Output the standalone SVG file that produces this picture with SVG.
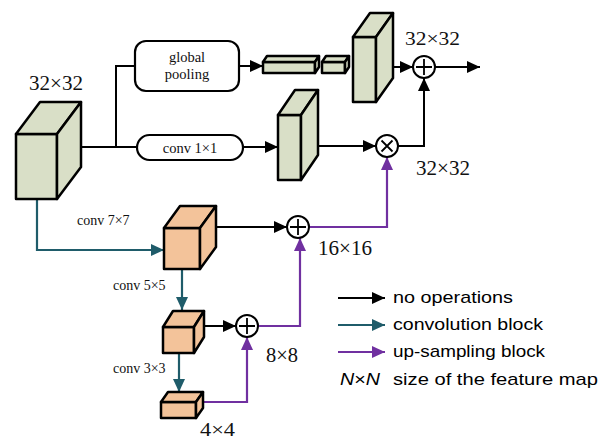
<svg xmlns="http://www.w3.org/2000/svg" width="601" height="442" viewBox="0 0 601 442">
<style>
.g{fill:#d9dfc7;stroke:#000;stroke-width:2.5;stroke-linejoin:round}
.o{fill:#f3c39a;stroke:#000;stroke-width:2.5;stroke-linejoin:round}
.box{fill:#fff;stroke:#000;stroke-width:2.2}
.k{fill:none;stroke:#000;stroke-width:2}
.t{fill:none;stroke:#1f5c6a;stroke-width:2.2}
.p{fill:none;stroke:#7030a0;stroke-width:2.2}
.op{fill:#fff;stroke:#000;stroke-width:2}
.sym{stroke:#000;stroke-width:1.8}
.ser{font-family:"Liberation Serif","Times New Roman",serif;fill:#111}
.san{font-family:"Liberation Sans",Arial,sans-serif;fill:#000;font-size:17px}
</style>
<defs>
<marker id="ak" markerUnits="userSpaceOnUse" markerWidth="13" markerHeight="12" refX="13" refY="6" orient="auto"><path d="M0,0 L13,6 L0,12 z" fill="#000"/></marker>
<marker id="at" markerUnits="userSpaceOnUse" markerWidth="13" markerHeight="12" refX="13" refY="6" orient="auto"><path d="M0,0 L13,6 L0,12 z" fill="#1f5c6a"/></marker>
<marker id="ap" markerUnits="userSpaceOnUse" markerWidth="13" markerHeight="12" refX="13" refY="6" orient="auto"><path d="M0,0 L13,6 L0,12 z" fill="#7030a0"/></marker>
</defs>

<g id="connectors">
<path class="k" d="M81,147 H137"/>
<path class="k" d="M116,147 V66 H135"/>
<path class="k" d="M239,66 H263" marker-end="url(#ak)"/>
<path class="k" d="M243,147 H278" marker-end="url(#ak)"/>
<path class="k" d="M318,146 H376" marker-end="url(#ak)"/>
<path class="k" d="M398,146 H424 V78" marker-end="url(#ak)"/>
<path class="k" d="M393,67 H413" marker-end="url(#ak)"/>
<path class="k" d="M435,67 H480" marker-end="url(#ak)"/>
<path class="k" d="M216,227 H287" marker-end="url(#ak)"/>
<path class="k" d="M204,326 H236" marker-end="url(#ak)"/>
<path class="t" d="M37,199 V250 H164" marker-end="url(#at)"/>
<path class="t" d="M182,269 V310" marker-end="url(#at)"/>
<path class="t" d="M179,353 V392" marker-end="url(#at)"/>
<path class="p" d="M203,402 H247 V337" marker-end="url(#ap)"/>
<path class="p" d="M258,326 H300 V238" marker-end="url(#ap)"/>
<path class="p" d="M309,227 H387 V157" marker-end="url(#ap)"/>
</g>

<g id="input-cube">
<rect class="g" x="16" y="134" width="41" height="65"/>
<polygon class="g" points="16,134 40,102 81,102 57,134"/>
<polygon class="g" points="57,134 81,102 81,167 57,199"/>
</g>
<g id="global-pooling">
<rect class="box" x="135" y="41" width="104" height="50" rx="11"/>
<text class="ser" x="187" y="62" font-size="14.5" text-anchor="middle">global</text>
<text class="ser" x="187" y="79" font-size="14.5" text-anchor="middle">pooling</text>
</g>
<g id="conv1x1">
<rect class="box" x="137" y="135" width="106" height="25" rx="12.5"/>
<text class="ser" x="190" y="153" font-size="14.5" text-anchor="middle">conv 1×1</text>
</g>
<g id="bar1">
<rect class="g" x="263" y="62" width="52" height="11" stroke-width="2"/>
<polygon class="g" points="263,62 267,56 319,56 315,62" stroke-width="2"/>
<polygon class="g" points="315,62 319,56 319,67 315,73" stroke-width="2"/>
</g>
<g id="bar2">
<rect class="g" x="322" y="62" width="23" height="11" stroke-width="2"/>
<polygon class="g" points="322,62 326,56 349,56 345,62" stroke-width="2"/>
<polygon class="g" points="345,62 349,56 349,67 345,73" stroke-width="2"/>
</g>
<g id="top-cube">
<rect class="g" x="353" y="37" width="23" height="65"/>
<polygon class="g" points="353,37 370,13 393,13 376,37"/>
<polygon class="g" points="376,37 393,13 393,78 376,102"/>
</g>
<g id="mid-cube">
<rect class="g" x="278" y="115" width="23" height="65"/>
<polygon class="g" points="278,115 295,90 318,90 301,115"/>
<polygon class="g" points="301,115 318,90 318,155 301,180"/>
</g>
<g id="add-top">
<circle class="op" cx="424" cy="67" r="11"/>
<path class="sym" d="M416,67 H432 M424,59 V75"/>
</g>
<g id="mul">
<circle class="op" cx="387" cy="146" r="11"/>
<path class="sym" d="M381.5,140.5 L392.5,151.5 M392.5,140.5 L381.5,151.5"/>
</g>
<g id="cube-a">
<rect class="o" x="164" y="228" width="36" height="41"/>
<polygon class="o" points="164,228 180,206 216,206 200,228"/>
<polygon class="o" points="200,228 216,206 216,247 200,269"/>
</g>
<g id="cube-b">
<rect class="o" x="163" y="327" width="31" height="26"/>
<polygon class="o" points="163,327 173,311 204,311 194,327"/>
<polygon class="o" points="194,327 204,311 204,337 194,353"/>
</g>
<g id="cube-c">
<rect class="o" x="161" y="402" width="35" height="16"/>
<polygon class="o" points="161,402 168,392 203,392 196,402"/>
<polygon class="o" points="196,402 203,392 203,408 196,418"/>
</g>
<g id="add-a">
<circle class="op" cx="298" cy="227" r="11"/>
<path class="sym" d="M290,227 H306 M298,219 V235"/>
</g>
<g id="add-b">
<circle class="op" cx="247" cy="326" r="11"/>
<path class="sym" d="M239,326 H255 M247,318 V334"/>
</g>

<g id="labels">
<text class="ser" x="29" y="90" font-size="20" textLength="54" lengthAdjust="spacingAndGlyphs">32×32</text>
<text class="ser" x="405" y="45" font-size="19" textLength="55" lengthAdjust="spacingAndGlyphs">32×32</text>
<text class="ser" x="416" y="175" font-size="21" textLength="54" lengthAdjust="spacingAndGlyphs">32×32</text>
<text class="ser" x="318" y="255" font-size="21" textLength="54" lengthAdjust="spacingAndGlyphs">16×16</text>
<text class="ser" x="266" y="362" font-size="21" textLength="32" lengthAdjust="spacingAndGlyphs">8×8</text>
<text class="ser" x="200" y="436" font-size="19" textLength="35" lengthAdjust="spacingAndGlyphs">4×4</text>
<text class="ser" x="77" y="225" font-size="14">conv 7×7</text>
<text class="ser" x="113" y="290" font-size="14">conv 5×5</text>
<text class="ser" x="113" y="373" font-size="14">conv 3×3</text>
</g>

<g id="legend">
<path class="k" d="M338,298 H385" marker-end="url(#ak)"/>
<path class="t" d="M338,325 H385" marker-end="url(#at)"/>
<path class="p" d="M338,352 H385" marker-end="url(#ap)"/>
<text class="san" x="393" y="303" textLength="120" lengthAdjust="spacingAndGlyphs">no operations</text>
<text class="san" x="393" y="330" textLength="150" lengthAdjust="spacingAndGlyphs">convolution block</text>
<text class="san" x="393" y="357" textLength="152" lengthAdjust="spacingAndGlyphs">up-sampling block</text>
<text class="san" x="340" y="385" textLength="40" lengthAdjust="spacingAndGlyphs"><tspan font-style="italic">N</tspan>×<tspan font-style="italic">N</tspan></text>
<text class="san" x="393" y="385" textLength="205" lengthAdjust="spacingAndGlyphs">size of the feature map</text>
</g>
</svg>
